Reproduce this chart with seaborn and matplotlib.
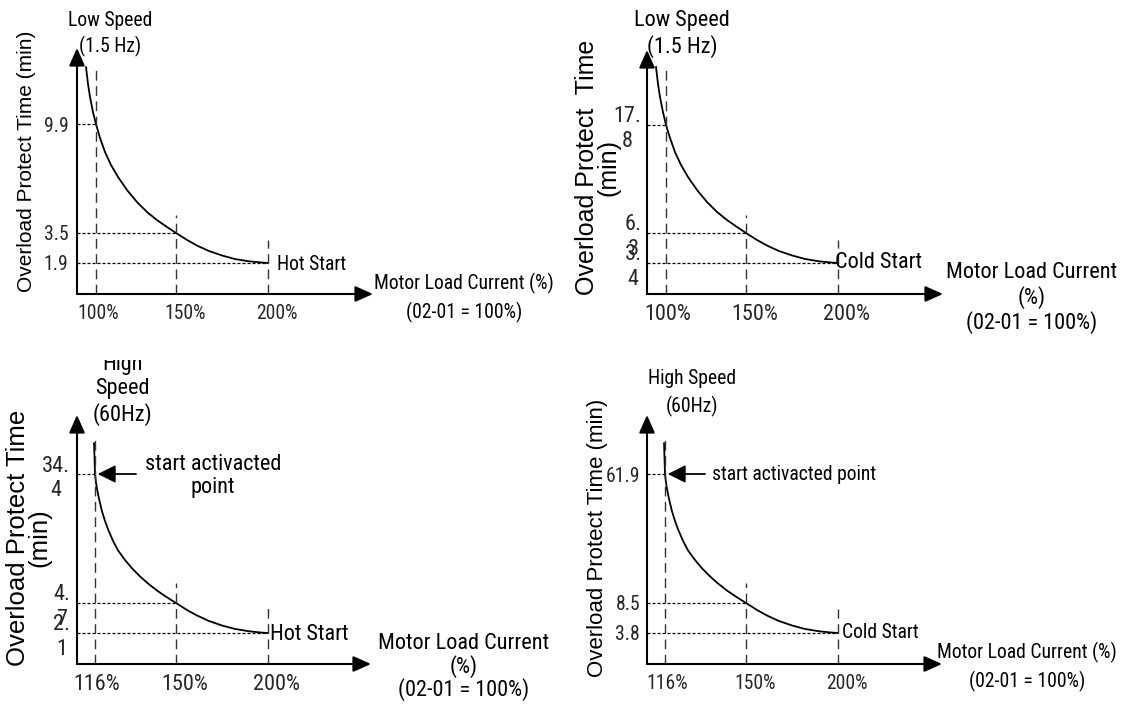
import numpy as np
import matplotlib
matplotlib.use("Agg")
import matplotlib.pyplot as plt
from matplotlib import font_manager
from matplotlib.transforms import Bbox, TransformedBbox, ScaledTranslation
import seaborn as sns

# ---- data ----
# low speed, hot start
P1_CURRENT = [100, 150, 200]
P1_TIME = [9.9, 3.5, 1.9]
P1_CURRENT_LABELS = ["100%", "150%", "200%"]
P1_TIME_LABELS = ["9.9", "3.5", "1.9"]
TOP_CURVE_X = [93.75, 95.0, 96.25, 98.1, 100, 102.5, 105.6, 109.4, 113.75, 119.4, 125.6,
               131.9, 138.1, 144.4, 150, 156.0, 161.4, 167.9, 175.0, 182.1, 189.7, 196.2, 200]
P1_CURVE_Y = [13.25, 12.25, 11.49, 10.6, 9.9, 9.08, 8.26, 7.49, 6.79, 6.02, 5.32,
              4.73, 4.26, 3.85, 3.5, 3.13, 2.83, 2.54, 2.3, 2.11, 1.99, 1.93, 1.9]

# low speed, cold start
P2_CURRENT = [100, 150, 200]
P2_TIME = [17.8, 6.3, 3.4]
P2_CURRENT_LABELS = ["100%", "150%", "200%"]
P2_TIME_LABELS = ["17.\n8", "6.\n3", "3.\n4"]
P2_CURVE_Y = [24.0, 22.17, 20.78, 19.18, 17.8, 16.42, 14.93, 13.54, 12.26, 10.88, 9.6,
              8.54, 7.68, 6.94, 6.3, 5.62, 5.09, 4.56, 4.13, 3.79, 3.56, 3.45, 3.4]

# high speed, hot start
P3_CURRENT = [116, 150, 200]
P3_TIME = [34.4, 4.7, 2.1]
P3_CURRENT_LABELS = ["116%", "150%", "200%"]
P3_TIME_LABELS = ["34.\n4", "4.\n7", "2.\n1"]
BOT_CURVE_X = [115.6, 116, 116.4, 116.8, 117.7, 118.9, 120.2, 121.5, 123.6, 125.7, 128.6,
               131.5, 134.9, 138.3, 142.0, 146.2, 150, 156.0, 161.4, 167.9, 175.0, 182.1,
               189.7, 196.2, 200]
P3_CURVE_Y = [41.54, 34.4, 32.56, 31.06, 28.65, 25.88, 23.58, 21.62, 18.98, 16.77, 14.6,
              12.71, 10.82, 9.17, 7.58, 6.01, 4.7, 4.09, 3.62, 3.14, 2.75, 2.45, 2.25, 2.14, 2.1]

# high speed, cold start
P4_CURRENT = [116, 150, 200]
P4_TIME = [61.9, 8.5, 3.8]
P4_CURRENT_LABELS = ["116%", "150%", "200%"]
P4_TIME_LABELS = ["61.9", "8.5", "3.8"]
P4_CURVE_Y = [74.73, 61.9, 58.58, 55.89, 51.55, 46.58, 42.44, 38.92, 34.16, 30.19, 26.3,
              22.9, 19.51, 16.53, 13.67, 10.86, 8.5, 7.4, 6.54, 5.68, 4.98, 4.43, 4.07, 3.88, 3.8]

W, H = 1126, 708

sns.set_theme(style="white")

# the source uses a tall condensed face; take the narrowest one installed
_names = {f.name for f in font_manager.fontManager.ttflist}
_narrow = [("Liberation Sans Narrow", 0.82), ("Arial Narrow", 0.82), ("Roboto Condensed", 0.88),
           ("Noto Sans Condensed", 0.86), ("Open Sans Condensed", 0.85),
           ("DejaVu Sans Condensed", 1.0), ("Liberation Sans", 1.0)]
NARROW, _wf = next((n, w) for n, w in _narrow if n in _names or n == "Liberation Sans")
K = (0.82 / _wf) ** 0.8
plt.rcParams["font.family"] = [NARROW, "Liberation Sans", "DejaVu Sans"]
plt.rcParams["text.color"] = "black"

fig = plt.figure(figsize=(W / 100, H / 100), dpi=100)


def pw_scale(vals, px):
    # piecewise-linear schematic scale, straight extension past both ends
    vals = np.asarray(vals, float)
    px = np.asarray(px, float)

    def interp(v, a, b):
        v = np.asarray(v, float)
        out = np.interp(v, a, b)
        lo = (b[1] - b[0]) / (a[1] - a[0])
        hi = (b[-1] - b[-2]) / (a[-1] - a[-2])
        out = np.where(v < a[0], b[0] + (v - a[0]) * lo, out)
        out = np.where(v > a[-1], b[-1] + (v - a[-1]) * hi, out)
        return out

    return (lambda v: interp(v, vals, px)), (lambda p: interp(p, px, vals))


def ftext(x, y, s, **kw):
    kw.setdefault("ha", "center")
    kw.setdefault("va", "center")
    return fig.text(x / W, 1 - y / H, s, **kw)


def panel(origin, size, xpx, ypx, current, time, cur_labels, time_labels,
          curve_x, curve_y, fs, ypad, guide_px, label_shift):
    ox, oy = origin
    aw, ah = size
    ax = fig.add_axes([ox / W, (H - oy) / H, aw / W, ah / H])
    fx, ix = pw_scale(current, xpx)
    fy, iy = pw_scale([0] + sorted(time), [0] + ypx)
    ax.set_xscale("function", functions=(fx, ix))
    ax.set_yscale("function", functions=(fy, iy))
    ax.set_facecolor("none")

    sns.lineplot(x=curve_x, y=curve_y, ax=ax, color="black", linewidth=1.3,
                 estimator=None, sort=False)

    x0 = float(ix(0))
    ax.set_xlim(x0, float(ix(aw)))
    ax.set_ylim(0, float(iy(ah)))

    # dotted guides from the time axis to each point
    for c, t in zip(current, time):
        ax.plot([x0, c], [t, t], color="black", lw=0.9, ls=(0, (2.4, 1.6)), clip_on=False)
    # dashed guides up from the current axis
    for c, g in zip(current, guide_px):
        ax.plot([c, c], [0, g / ah], transform=ax.get_xaxis_transform(),
                color="#333333", lw=1.0, ls=(0, (7, 4)), clip_on=False)

    for s in ax.spines.values():
        s.set_visible(False)
    arrow = dict(arrowstyle="-|>,head_length=0.9,head_width=0.4", mutation_scale=12,
                 lw=1.5, color="black", shrinkA=0, shrinkB=0)
    ax.annotate("", xy=(0, 1), xytext=(0, 0), xycoords="axes fraction", arrowprops=arrow)
    ax.annotate("", xy=(1, 0), xytext=(0, 0), xycoords="axes fraction", arrowprops=arrow)

    ax.set_xticks(current, cur_labels, fontsize=fs * K)
    ax.set_yticks(time, time_labels, fontsize=fs * K, multialignment="center")
    ax.tick_params(axis="both", length=0)
    ax.tick_params(axis="x", pad=7)
    ax.tick_params(axis="y", pad=ypad)
    ax.set(xlabel="", ylabel="")
    ax.grid(False)
    # the source sets its current labels a little right of the guides
    for lab, dx in zip(ax.get_xticklabels(), label_shift):
        lab.set_transform(lab.get_transform() + ScaledTranslation(dx / 100, 0, fig.dpi_scale_trans))
    return ax


TOP_XPX = [19, 99, 191]
BOT_XPX = [18, 99, 191]
SHIFT = [2, 9, 9]

ax1 = panel((77, 294), (296, 246), TOP_XPX, [31, 61, 170], P1_CURRENT, P1_TIME,
            P1_CURRENT_LABELS, P1_TIME_LABELS, TOP_CURVE_X, P1_CURVE_Y, 15, 6, [229, 79, 54], SHIFT)
ax2 = panel((647, 294), (296, 244), TOP_XPX, [31, 61, 169], P2_CURRENT, P2_TIME,
            P2_CURRENT_LABELS, P2_TIME_LABELS, TOP_CURVE_X, P2_CURVE_Y, 17, 4, [229, 79, 54], SHIFT)
ax3 = panel((77, 664), (294, 249), BOT_XPX, [31, 61, 190], P3_CURRENT, P3_TIME,
            P3_CURRENT_LABELS, P3_TIME_LABELS, BOT_CURVE_X, P3_CURVE_Y, 17, 5, [229, 81, 56], SHIFT)
ax4 = panel((647, 664), (295, 249), BOT_XPX, [31, 61, 190], P4_CURRENT, P4_TIME,
            P4_CURRENT_LABELS, P4_TIME_LABELS, BOT_CURVE_X, P4_CURVE_Y, 15, 5, [229, 81, 55], SHIFT)

# start activated point arrows
pt_arrow = dict(arrowstyle="-|>,head_length=0.9,head_width=0.45", mutation_scale=12,
                lw=1.3, color="black", shrinkA=0, shrinkB=2)
ax3.annotate("", xy=(P3_CURRENT[0], P3_TIME[0]), xytext=(41, 0),
             textcoords="offset pixels", arrowprops=pt_arrow)
ax4.annotate("", xy=(P4_CURRENT[0], P4_TIME[0]), xytext=(40, 0),
             textcoords="offset pixels", arrowprops=pt_arrow)

YFONT = "Liberation Sans"

# panel 1
ftext(110, 34, "Low Speed\n(1.5 Hz)", fontsize=15 * K, linespacing=1.35)
ftext(277, 265, "Hot Start", ha="left", fontsize=15 * K)
ftext(464, 298, "Motor Load Current (%)\n(02-01 = 100%)", fontsize=15 * K, linespacing=1.45)
ftext(27, 161, "Overload Protect Time (min)", rotation=90, family=YFONT, fontsize=15)

# panel 2
ftext(682, 34, "Low Speed\n(1.5 Hz)", fontsize=17 * K, linespacing=1.2)
ftext(835, 262, "Cold Start", ha="left", fontsize=17 * K)
ftext(1032, 298, "Motor Load Current\n(%)\n(02-01 = 100%)", fontsize=17 * K, linespacing=1.15)
ftext(598, 167, "Overload Protect  Time\n(min)", rotation=90, family=YFONT, fontsize=18,
      linespacing=0.85, multialignment="center")

# panel 3
hs = ftext(122, 390, "High\nSpeed\n(60Hz)", fontsize=17 * K, linespacing=1.2)
hs.set_clip_box(TransformedBbox(Bbox.from_extents(0, 0, 1, 1 - 360 / H), fig.transFigure))
hs.set_clip_on(True)
ftext(213, 476, "start activacted\npoint", fontsize=17 * K, linespacing=1.1)
ftext(270, 635, "Hot Start", ha="left", fontsize=17 * K)
ftext(464, 667, "Motor Load Current\n(%)\n(02-01 = 100%)", fontsize=17 * K, linespacing=1.05)
ftext(29, 538, "Overload Protect Time\n(min)", rotation=90, family=YFONT, fontsize=18.5,
      linespacing=0.85, multialignment="center")

# panel 4
ftext(692, 393, "High Speed\n(60Hz)", fontsize=15 * K, linespacing=1.5)
ftext(712, 475, "start activacted point", ha="left", fontsize=15 * K)
ftext(842, 633, "Cold Start", ha="left", fontsize=15 * K)
ftext(1027, 667, "Motor Load Current (%)\n(02-01 = 100%)", fontsize=15 * K, linespacing=1.5)
ftext(598, 538, "Overload Protect Time (min)", rotation=90, family=YFONT, fontsize=16)

fig.savefig("out.png", dpi=100, facecolor="white")
